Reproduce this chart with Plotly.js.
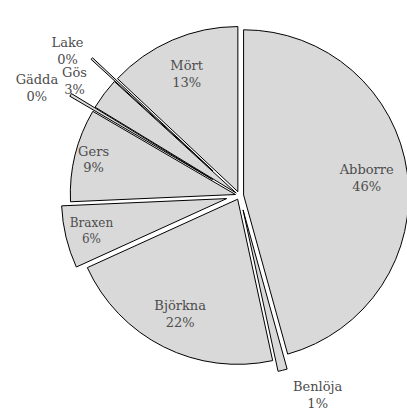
<!DOCTYPE html>
<html>
<head>
<meta charset="utf-8">
<script src="https://cdn.plot.ly/plotly-3.0.1.min.js"></script>
<style>
  html, body { margin: 0; padding: 0; overflow: hidden; width: 407px; height: 408px; background: #fff; }
  #chart { position: absolute; left: 0; top: -6px; width: 460px; height: 414px; }
</style>
</head>
<body>
<div id="chart"></div>
<script>
// Catch composition by species (share of total, %)
const species = ['Abborre', 'Benlöja', 'Björkna', 'Braxen', 'Gers', 'Gädda', 'Gös', 'Lake', 'Mört'];
const shares  = [45.7, 0.9, 21.6, 6.1, 9.1, 0.3, 3.1, 0.2, 13.0];

// How far each wedge is pulled out from the centre (fraction of radius)
const wedgePull = [0.025, 0.09, 0.025, 0.08, 0.025, 0.19, 0.025, 0.22, 0.025];
// Radial offset used when placing each wedge's label
const labelPull = [0, 0.15, 0.025, 0.08, 0.13, 0.22, 0.095, 0.22, 0.025];
// Wedges too narrow to hold their label get it outside
const outsideLabelled = ['Benlöja', 'Gädda', 'Gös', 'Lake'];
// Wedge on the far side of the pie that carries the largest pull in an outside-label
// layer, so every layer keeps the same radius as the wedges
const counterweight = { 'Benlöja': 'Björkna' };

const FONT = { family: 'DejaVu Serif, Georgia, serif', size: 13, color: '#4d4d4d' };
const clear = species.map(() => 'rgba(0,0,0,0)');
const maxPull = Math.max(...wedgePull);

const base = {
  type: 'pie',
  labels: species,
  values: shares,
  sort: false,
  direction: 'clockwise',
  rotation: 0,
  hoverinfo: 'none',
  showlegend: false
};

// The wedges themselves
const wedges = Object.assign({}, base, {
  pull: wedgePull,
  textinfo: 'none',
  marker: {
    colors: species.map(() => '#d9d9d9'),
    line: { color: '#000000', width: 1 }
  }
});

// Labels that sit inside their wedge (a hole pushes them toward the rim)
const insideLabels = Object.assign({}, base, {
  hole: 0.55,
  pull: labelPull,
  textposition: species.map(s => outsideLabelled.includes(s) ? 'none' : 'inside'),
  insidetextorientation: 'horizontal',
  texttemplate: '%{label}<br>%{percent:.0%}',
  textfont: FONT,
  marker: { colors: clear, line: { width: 0 } }
});

// One layer per outside label so they are placed independently, without leader lines
const outsideLabels = outsideLabelled.map(name => {
  const i = species.indexOf(name);
  const keeper = species.indexOf(counterweight[name] || 'Abborre');
  return Object.assign({}, base, {
    pull: species.map((s, j) => j === i ? labelPull[i] : (j === keeper ? maxPull : 0)),
    textposition: species.map((s, j) => j === i ? 'outside' : 'none'),
    texttemplate: '%{label}<br>%{percent:.0%}',
    outsidetextfont: FONT,
    textfont: FONT,
    marker: { colors: clear, line: { width: 0 } }
  });
});

const layout = {
  width: 460,
  height: 414,
  margin: { l: 38, r: 19, t: 0, b: 11, pad: 0 },
  paper_bgcolor: '#ffffff',
  plot_bgcolor: '#ffffff',
  showlegend: false
};

Plotly.newPlot('chart', [wedges, insideLabels].concat(outsideLabels), layout,
  { displayModeBar: false, staticPlot: true });
</script>
</body>
</html>
